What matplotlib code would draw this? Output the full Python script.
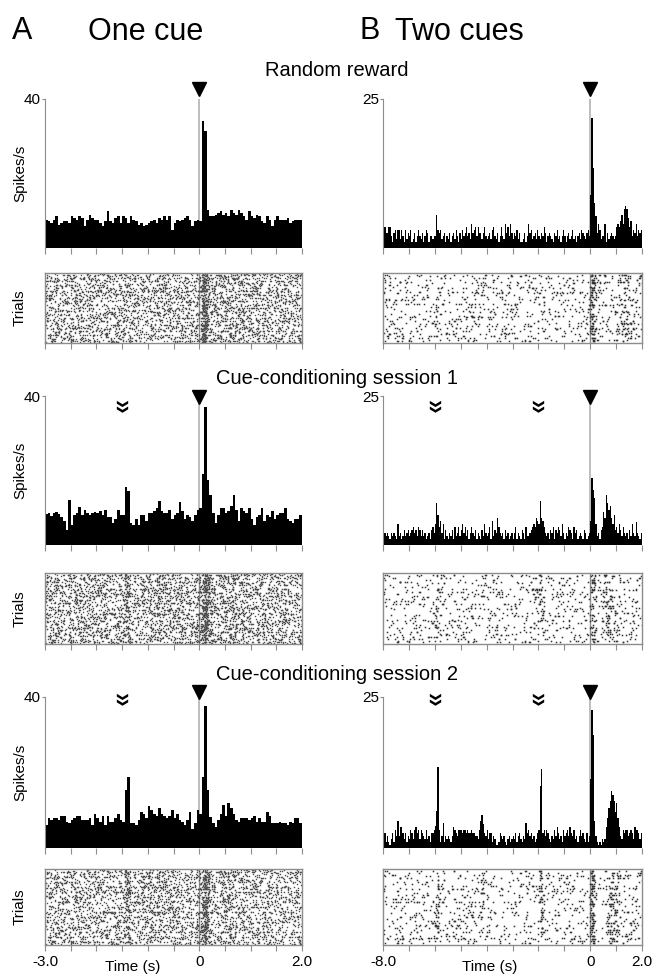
import numpy as np
import matplotlib
matplotlib.use('Agg')
import matplotlib.pyplot as plt
from matplotlib.path import Path
from matplotlib.transforms import blended_transform_factory

plt.rcParams['font.family'] = ['Liberation Sans', 'DejaVu Sans']

# ---- data: firing rate (spikes/s) in 50 ms bins ----
# One cue, -3.0 .. 2.0 s (100 bins)
one_cue_random = [
    7.6, 7.2, 6.7, 7.6, 8.5, 6.3, 6.7, 7.2, 7.2, 6.7,
    8.5, 8.0, 7.6, 8.5, 8.0, 5.8, 7.6, 8.9, 8.0, 7.6,
    7.6, 6.7, 5.8, 7.2, 9.8, 7.2, 6.7, 8.0, 8.5, 6.7,
    8.5, 8.0, 6.7, 8.5, 7.6, 7.2, 6.3, 6.7, 5.8, 6.3,
    6.7, 7.2, 7.6, 6.7, 8.0, 7.6, 8.5, 7.6, 8.5, 4.9,
    6.7, 7.6, 7.2, 7.6, 8.0, 8.5, 7.6, 5.8, 7.2, 7.6,
    7.2, 34.0, 31.5, 10.3, 8.5, 8.5, 8.9, 9.4, 9.8, 8.9,
    9.4, 8.5, 10.3, 9.4, 8.9, 10.3, 9.4, 8.5, 7.6, 9.8,
    8.5, 8.0, 8.9, 8.5, 7.2, 6.7, 8.5, 7.6, 5.8, 7.6,
    8.5, 7.6, 7.6, 7.6, 8.0, 6.7, 7.2, 7.6, 7.6, 7.6,
]
one_cue_session1 = [
    8.2, 8.5, 7.8, 8.5, 8.8, 8.2, 7.5, 6.5, 4.0, 12.0,
    5.5, 8.0, 8.5, 10.3, 8.0, 9.5, 8.5, 8.0, 8.5, 8.8,
    8.5, 9.0, 8.0, 9.5, 7.5, 7.5, 6.0, 7.0, 9.5, 8.0,
    8.0, 15.6, 14.5, 6.0, 5.5, 7.0, 5.5, 8.0, 8.0, 6.5,
    8.5, 8.5, 9.0, 10.0, 11.8, 9.0, 8.5, 8.5, 9.5, 7.0,
    8.0, 8.5, 11.5, 9.0, 7.0, 8.0, 7.5, 6.5, 8.0, 9.5,
    10.0, 19.0, 37.0, 17.5, 13.5, 8.5, 6.0, 8.0, 10.0, 10.0,
    8.5, 9.0, 10.5, 13.5, 9.5, 6.5, 10.0, 9.0, 8.5, 10.0,
    7.0, 5.5, 7.5, 8.0, 10.0, 6.5, 8.0, 7.5, 9.0, 7.0,
    8.0, 8.5, 8.5, 10.0, 7.0, 6.5, 6.0, 7.0, 7.0, 8.0,
]
one_cue_session2 = [
    6.0, 8.0, 7.5, 8.0, 8.0, 7.5, 8.5, 8.5, 7.0, 6.5,
    7.5, 8.0, 8.5, 8.5, 7.5, 7.5, 7.5, 8.0, 6.0, 9.0,
    8.0, 7.0, 8.5, 6.0, 8.5, 7.0, 7.0, 8.0, 9.0, 7.5,
    7.0, 15.3, 18.8, 6.5, 6.5, 6.0, 7.5, 9.5, 9.0, 8.0,
    11.0, 10.0, 9.0, 8.5, 10.5, 9.0, 8.5, 8.0, 8.5, 10.0,
    8.0, 9.0, 7.5, 7.0, 6.0, 7.5, 9.5, 5.0, 6.5, 10.0,
    9.0, 18.8, 37.5, 15.4, 8.2, 6.5, 5.5, 7.5, 9.0, 11.5,
    8.5, 12.0, 10.5, 9.0, 7.5, 7.0, 8.0, 8.0, 8.0, 7.5,
    8.0, 8.5, 7.0, 8.0, 7.0, 7.0, 9.5, 8.5, 6.5, 6.5,
    6.5, 7.0, 6.5, 6.5, 6.0, 7.0, 6.5, 8.0, 8.0, 6.5,
]

# Two cues, -8.0 .. 2.0 s (200 bins)
two_cues_random = [
    2.0, 3.5, 2.5, 2.5, 3.5, 3.5, 2.0, 1.0, 2.5, 3.0, 1.5, 3.0, 3.0, 1.5, 3.0, 2.0, 1.0, 3.0, 1.5, 2.5,
    2.0, 3.0, 1.0, 1.5, 2.5, 1.0, 2.0, 3.0, 2.0, 1.5, 2.5, 1.0, 2.0, 3.0, 2.5, 1.0, 2.0, 2.0, 1.5, 2.0,
    2.0, 5.6, 3.0, 2.5, 3.0, 1.5, 2.0, 2.5, 1.0, 2.0, 1.5, 2.5, 1.0, 2.0, 2.5, 1.5, 3.0, 2.0, 1.0, 2.5,
    1.5, 3.0, 2.0, 2.5, 3.5, 2.0, 2.5, 1.5, 4.0, 2.5, 3.0, 3.5, 2.0, 3.5, 2.5, 2.5, 1.5, 2.5, 3.5, 2.0,
    1.5, 2.0, 2.5, 1.5, 3.0, 3.5, 2.0, 1.5, 2.5, 1.0, 2.0, 3.5, 2.0, 1.5, 4.0, 2.5, 3.5, 2.0, 4.0, 2.5,
    1.5, 2.5, 2.0, 3.0, 1.5, 2.5, 1.0, 1.0, 1.5, 2.5, 1.0, 2.0, 4.0, 2.5, 3.0, 1.5, 2.0, 2.5, 1.5, 3.0,
    2.0, 1.5, 2.5, 2.0, 3.5, 2.5, 1.0, 2.0, 2.5, 2.0, 1.5, 1.0, 2.5, 2.0, 3.0, 1.5, 2.0, 1.0, 2.0, 3.0,
    2.0, 1.0, 2.0, 2.5, 1.5, 2.0, 3.0, 1.5, 2.0, 1.0, 2.0, 2.5, 1.5, 3.0, 2.5, 2.0, 1.5, 2.5, 3.0, 2.0,
    8.9, 21.8, 13.4, 7.5, 5.3, 2.5, 4.0, 3.0, 1.5, 2.0, 2.0, 4.0, 1.0, 2.5, 1.5, 2.0, 2.5, 2.0, 1.5, 2.0,
    3.5, 4.0, 3.5, 4.5, 5.5, 4.0, 6.5, 7.0, 6.5, 5.0, 3.5, 4.5, 2.0, 3.0, 2.5, 4.0, 2.0, 3.0, 2.5, 3.0,
]
two_cues_session1 = [
    1.5, 2.0, 1.5, 2.0, 1.5, 1.0, 2.0, 1.5, 2.0, 1.5, 1.0, 3.5, 1.5, 2.0, 1.0, 1.5, 2.5, 1.5, 2.0, 2.5,
    1.5, 2.0, 2.5, 3.0, 2.0, 2.5, 1.5, 3.0, 2.5, 1.5, 2.5, 1.5, 2.0, 1.0, 1.5, 2.0, 1.0, 2.5, 3.0, 2.0,
    3.5, 7.0, 5.0, 3.0, 4.0, 2.0, 3.5, 1.0, 2.5, 1.5, 1.0, 2.0, 1.5, 2.5, 1.0, 3.0, 1.5, 2.0, 3.0, 1.5,
    2.5, 3.5, 2.0, 3.0, 1.5, 2.5, 1.0, 2.0, 3.0, 2.0, 1.5, 2.5, 1.0, 2.0, 1.5, 1.0, 2.5, 1.5, 3.5, 2.0,
    1.5, 2.0, 3.0, 1.0, 4.0, 1.5, 2.5, 2.0, 4.5, 3.0, 2.0, 1.5, 2.0, 1.0, 2.5, 1.5, 2.0, 1.0, 1.5, 2.0,
    1.0, 2.0, 3.0, 1.0, 2.0, 1.5, 1.0, 2.5, 2.0, 1.0, 3.0, 1.5, 1.5, 2.0, 2.5, 3.0, 3.5, 3.0, 4.5, 4.0,
    3.5, 7.3, 4.5, 4.0, 3.0, 2.0, 1.5, 2.0, 1.0, 2.5, 2.0, 3.0, 1.0, 2.5, 2.0, 3.0, 2.5, 1.5, 3.5, 2.0,
    1.0, 2.0, 1.5, 3.0, 2.5, 2.0, 1.0, 3.0, 2.0, 2.5, 1.0, 1.5, 2.0, 1.5, 1.0, 2.5, 2.0, 1.0, 1.5, 2.0,
    4.0, 11.2, 9.2, 7.9, 3.5, 1.5, 2.0, 1.0, 2.5, 3.0, 5.5, 4.5, 8.4, 7.0, 5.9, 6.5, 4.5, 3.5, 5.0, 2.5,
    3.0, 2.0, 3.5, 2.5, 1.5, 3.0, 2.0, 1.5, 2.0, 1.0, 2.5, 1.5, 3.5, 2.0, 1.5, 3.8, 2.0, 1.5, 1.0, 2.0,
]
two_cues_session2 = [
    3.0, 2.5, 1.0, 2.0, 1.0, 0.5, 1.5, 2.5, 1.0, 3.0, 2.0, 4.5, 2.0, 3.5, 3.5, 2.5, 1.5, 2.5, 1.0, 2.0,
    1.5, 3.0, 2.5, 1.5, 3.0, 3.5, 2.5, 3.0, 1.5, 3.0, 2.5, 2.0, 1.5, 3.0, 1.5, 2.0, 1.0, 2.5, 2.5, 3.0,
    3.6, 6.1, 13.4, 3.0, 1.0, 2.0, 4.2, 1.0, 2.0, 1.5, 2.0, 1.5, 1.0, 2.0, 3.5, 3.0, 2.5, 2.0, 3.0, 3.0,
    3.0, 2.5, 3.0, 3.0, 2.5, 3.0, 2.5, 2.5, 3.0, 2.5, 2.5, 2.0, 2.0, 1.5, 3.0, 4.5, 5.5, 4.0, 2.5, 2.0,
    3.0, 1.5, 2.5, 2.5, 1.0, 2.0, 1.5, 0.5, 0.5, 1.0, 2.5, 2.0, 1.5, 2.0, 1.0, 0.5, 1.5, 2.0, 1.0, 1.5,
    2.0, 1.5, 2.5, 1.0, 2.0, 2.5, 1.5, 1.0, 2.0, 1.5, 4.2, 2.5, 3.0, 2.0, 2.5, 1.5, 2.0, 1.0, 1.5, 2.5,
    3.0, 10.3, 13.0, 2.5, 3.0, 2.0, 3.0, 2.5, 1.5, 1.0, 2.0, 1.5, 3.0, 2.0, 3.5, 2.5, 1.5, 2.0, 1.0, 3.0,
    2.0, 2.5, 3.0, 2.0, 3.5, 2.5, 2.0, 3.0, 1.5, 2.0, 1.0, 2.0, 3.0, 2.0, 2.5, 1.5, 1.0, 2.5, 1.0, 2.0,
    11.5, 22.9, 18.7, 4.5, 2.0, 1.0, 0.5, 1.0, 0.5, 1.5, 1.0, 1.5, 3.5, 5.0, 6.7, 7.8, 9.5, 8.7, 7.8, 6.0,
    7.5, 5.0, 3.5, 2.0, 1.5, 3.0, 2.5, 3.0, 3.0, 2.0, 2.5, 3.0, 2.5, 1.5, 3.5, 3.0, 3.0, 2.5, 1.5, 2.5,
]

row_titles = ['Random reward', 'Cue-conditioning session 1', 'Cue-conditioning session 2']
one_cue_times = [[], [-1.5], [-1.5]]
two_cue_times = [[], [-6.0, -2.0], [-6.0, -2.0]]
one_cue_range = (-3.0, 2.0)
two_cue_range = (-8.0, 2.0)
ymax_one, ymax_two = 40, 25
n_trials_one, n_trials_two = 90, 40

# ---- layout in pixels ----
W, H = 656.0, 976.0
def box(x0, x1, y0, y1):
    return [x0 / W, 1 - y1 / H, (x1 - x0) / W, (y1 - y0) / H]

cols = [(45, 302), (383, 642)]
hist_rows = [(99, 248), (396, 545), (697, 848)]
rast_rows = [(273, 343), (573, 644), (869, 945)]
tri_pos = [1.07, 0.99, 1.03]
cue_pos = [0.93, 0.93, 0.99]
title_y = [70, 378, 675]

GREY = '0.55'

# double chevron marker
v = [(-1, 1.0), (0, 0.4), (1, 1.0), (1, 0.5), (0, -0.1), (-1, 0.5), (-1, 1.0),
     (-1, 0.0), (0, -0.6), (1, 0.0), (1, -0.5), (0, -1.1), (-1, -0.5), (-1, 0.0)]
c = [Path.MOVETO] + [Path.LINETO] * 5 + [Path.CLOSEPOLY]
chevron = Path(v, c + c)


def style_ticks(ax, t0, t1):
    ax.set_xlim(t0, t1)
    ax.set_xticks(np.linspace(t0, t1, 11))
    ax.set_xticklabels([])
    ax.tick_params(axis='both', direction='out', length=4, width=0.8,
                   color=GREY, labelsize=11, pad=3)


def psth(ax, rates, t_range, ymax, cues, tri, cue_y):
    t0, t1 = t_range
    edges = np.linspace(t0, t1, len(rates) + 1)
    ax.axvline(0, color='0.7', lw=1.2, zorder=0)
    ax.bar(edges[:-1], rates, width=np.diff(edges), align='edge',
           color='k', lw=0, zorder=1)
    ax.set_ylim(0, ymax)
    ax.set_yticks([ymax])
    ax.set_yticklabels([str(ymax)])
    style_ticks(ax, t0, t1)
    ax.tick_params(axis='y', length=2, pad=1)
    for s in ['top', 'right']:
        ax.spines[s].set_visible(False)
    ax.spines['left'].set_color(GREY)
    ax.spines['bottom'].set_visible(False)
    tr = blended_transform_factory(ax.transData, ax.transAxes)
    ax.plot([0], [tri], marker='v', ms=10, color='k', transform=tr, clip_on=False)
    for cx in cues:
        ax.plot([cx], [cue_y], marker=chevron, ms=9, color='k', mew=0,
                transform=tr, clip_on=False)


def scatter_hash(a, b):
    # integer hash to spread spikes of a bin over trials / within the bin
    h = (a * 2654435761 + b * 2246822519 + 374761393) & 0xFFFFFFFF
    h = ((h ^ (h >> 15)) * 2246822519) & 0xFFFFFFFF
    h = ((h ^ (h >> 13)) * 3266489917) & 0xFFFFFFFF
    return h ^ (h >> 16)


def raster(ax, rates, t_range, ntr, dot_color, ms):
    t0, t1 = t_range
    edges = np.linspace(t0, t1, len(rates) + 1)
    bw = edges[1] - edges[0]
    ts, trs = [], []
    for i, r in enumerate(rates):
        n = int(round(r * bw * ntr))
        for k in range(n):
            h = scatter_hash(i, k)
            trs.append(h % ntr)
            ts.append(edges[i] + bw * ((h >> 8) % 1000) / 1000.0)
    ax.axvline(0, color=GREY, lw=1, zorder=0)
    ax.plot(ts, trs, 's', ms=ms, mew=0, color=dot_color)
    ax.set_ylim(-1, ntr)
    ax.set_yticks([])
    style_ticks(ax, t0, t1)
    for s in ax.spines.values():
        s.set_color(GREY)
        s.set_linewidth(1)


fig = plt.figure(figsize=(6.56, 9.76), dpi=100)

one_rates = [one_cue_random, one_cue_session1, one_cue_session2]
two_rates = [two_cues_random, two_cues_session1, two_cues_session2]

for r in range(3):
    for ci, (rates, t_range, ymax, cues, ntr, dc, ms) in enumerate([
            (one_rates[r], one_cue_range, ymax_one, one_cue_times[r], n_trials_one, '0.3', 1.0),
            (two_rates[r], two_cue_range, ymax_two, two_cue_times[r], n_trials_two, '0.2', 1.1)]):
        x0, x1 = cols[ci]
        ax = fig.add_axes(box(x0, x1, *hist_rows[r]))
        psth(ax, rates, t_range, ymax, cues, tri_pos[r], cue_pos[r])
        axr = fig.add_axes(box(x0, x1, *rast_rows[r]))
        raster(axr, rates, t_range, ntr, dc, ms)
        if r == 2:
            labels = [''] * 11
            labels[0] = '%.1f' % t_range[0]
            labels[int(round(-t_range[0] / (t_range[1] - t_range[0]) * 10))] = '0'
            labels[-1] = '%.1f' % t_range[1]
            axr.set_xticklabels(labels)
    fig.text(337 / W, 1 - title_y[r] / H, row_titles[r], fontsize=14.5,
             ha='center', va='center')
    fig.text(20 / W, 1 - sum(hist_rows[r]) / 2 / H, 'Spikes/s', fontsize=11,
             rotation=90, ha='center', va='center')
    fig.text(20 / W, 1 - sum(rast_rows[r]) / 2 / H, 'Trials', fontsize=11,
             rotation=90, ha='center', va='center')

fig.text(133 / W, 1 - 967 / H, 'Time (s)', fontsize=11, ha='center', va='center')
fig.text(490 / W, 1 - 967 / H, 'Time (s)', fontsize=11, ha='center', va='center')

fig.text(12 / W, 1 - 31 / H, 'A', fontsize=22, ha='left', va='center')
fig.text(88 / W, 1 - 32 / H, 'One cue', fontsize=22, ha='left', va='center')
fig.text(360 / W, 1 - 31 / H, 'B', fontsize=22, ha='left', va='center')
fig.text(395 / W, 1 - 32 / H, 'Two cues', fontsize=22, ha='left', va='center')

fig.savefig('out.png', dpi=100)
